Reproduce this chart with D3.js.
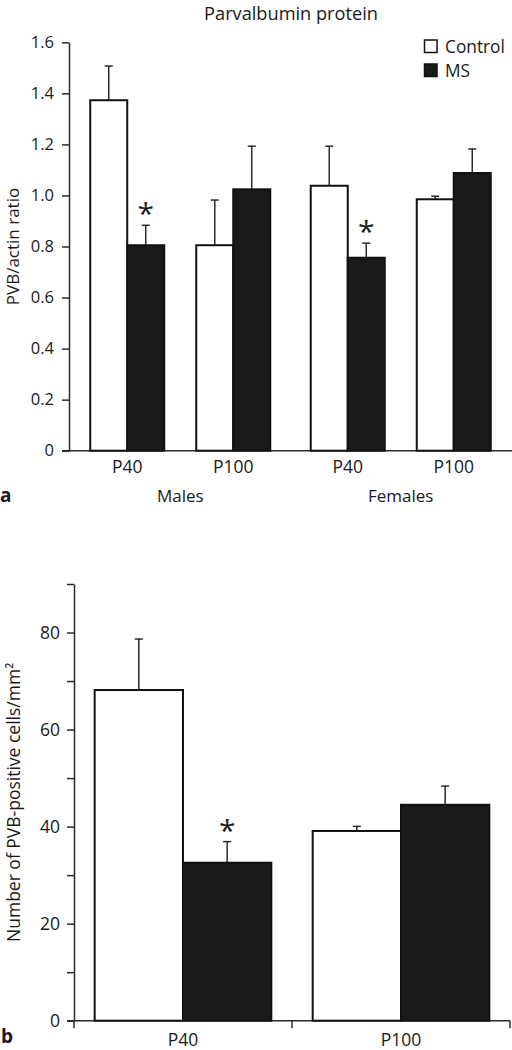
<!DOCTYPE html>
<html>
<head>
<meta charset="utf-8">
<script src="https://cdn.jsdelivr.net/npm/d3@7"></script>
<style>
  html, body { margin: 0; padding: 0; background: #fff; }
  svg { display: block; }
  text { font-family: "Open Sans", "Noto Sans", sans-serif; fill: #1a1a1a; }
</style>
</head>
<body>
<script>
// ---------- Data: panel a ----------
const sexes = ["Males", "Females"];
const ages = ["P40", "P100"];
const seriesNames = ["Control", "MS"];
// values in order: Males P40, Males P100, Females P40, Females P100
const controlMeans = [1.373, 0.805, 1.038, 0.985];
const controlErr   = [0.134, 0.177, 0.155, 0.012];
const msMeans      = [0.805, 1.024, 0.756, 1.088];
const msErr        = [0.078, 0.169, 0.057, 0.094];
const msSignif     = [true, false, true, false];
const yTicksA = [0, 0.2, 0.4, 0.6, 0.8, 1.0, 1.2, 1.4, 1.6];

// ---------- Data: panel b ----------
const agesB = ["P40", "P100"];
const controlMeansB = [68.15, 39.1];
const controlErrB   = [10.5, 0.95];
const msMeansB      = [32.56, 44.5];
const msErrB        = [4.35, 3.85];
const msSignifB     = [true, false];
const yTicksB = [0, 10, 20, 30, 40, 50, 60, 70, 80, 90];
const yLabelledB = [0, 20, 40, 60, 80];

const W = 512, H = 1050;
const svg = d3.select("body").append("svg").attr("width", W).attr("height", H);

const AXIS = "#2a2a2a";
const DARK = "#1a1a1a";

// ================= Panel a =================
const recordsA = [];
sexes.forEach((s, si) => ages.forEach((a, ai) => {
  const i = si * 2 + ai;
  recordsA.push({sex: s, age: a, series: "Control", v: controlMeans[i], e: controlErr[i], sig: false});
  recordsA.push({sex: s, age: a, series: "MS", v: msMeans[i], e: msErr[i], sig: msSignif[i]});
}));

const yA = d3.scaleLinear().domain([0, 1.6]).range([450.7, 42.3]);
const xSex = d3.scaleBand().domain(sexes).range([70, 511]);
const xAge = d3.scaleBand().domain(ages).range([0, xSex.bandwidth()]).paddingInner(0).paddingOuter(0.04);
const xSer = d3.scaleBand().domain(seriesNames).range([0, xAge.bandwidth()]).paddingInner(0).paddingOuter(0.4324);
const axA = 69;

const gA = svg.append("g");

// title
gA.append("text").attr("x", 291).attr("y", 19.5).attr("text-anchor", "middle")
  .attr("font-size", 18.2).text("Parvalbumin protein");

// y axis
const yAxisA = d3.axisLeft(yA).tickValues(yTicksA).tickSize(7).tickSizeOuter(0).tickPadding(8)
  .tickFormat(d => d === 0 ? "0" : d3.format(".1f")(d));
const yaG = gA.append("g").attr("transform", `translate(${axA},0)`).call(yAxisA);
yaG.select(".domain").attr("stroke", AXIS).attr("stroke-width", 1.5);
yaG.selectAll(".tick line").attr("stroke", AXIS).attr("stroke-width", 1.5);
yaG.selectAll(".tick text").attr("font-size", 16.5).attr("font-family", "'Open Sans', sans-serif").attr("fill", DARK);

// x baseline
gA.append("line").attr("x1", axA - 7).attr("x2", 512).attr("y1", yA(0)).attr("y2", yA(0))
  .attr("stroke", AXIS).attr("stroke-width", 1.5);

const barX = d => xSex(d.sex) + xAge(d.age) + xSer(d.series);

// error bars
const errA = gA.append("g");
recordsA.forEach(d => {
  const cx = barX(d) + xSer.bandwidth() / 2;
  errA.append("line").attr("x1", cx).attr("x2", cx).attr("y1", yA(d.v)).attr("y2", yA(d.v + d.e))
    .attr("stroke", AXIS).attr("stroke-width", 1.5);
  errA.append("line").attr("x1", cx - 4).attr("x2", cx + 4).attr("y1", yA(d.v + d.e)).attr("y2", yA(d.v + d.e))
    .attr("stroke", AXIS).attr("stroke-width", 1.5);
});

// bars
gA.append("g").selectAll("rect").data(recordsA).join("rect")
  .attr("x", d => barX(d))
  .attr("y", d => yA(d.v))
  .attr("width", xSer.bandwidth())
  .attr("height", d => yA(0) - yA(d.v))
  .attr("fill", d => d.series === "MS" ? DARK : "#fff")
  .attr("stroke", "#111").attr("stroke-width", 2);

// stars
gA.append("g").selectAll("text").data(recordsA.filter(d => d.sig)).join("text")
  .attr("x", d => barX(d) + xSer.bandwidth() / 2)
  .attr("y", d => yA(d.v + d.e) - 15 + 14)
  .attr("text-anchor", "middle").attr("font-size", 30).text("*");

// x labels
sexes.forEach(s => ages.forEach(a => {
  gA.append("text").attr("x", xSex(s) + xAge(a) + xAge.bandwidth() / 2).attr("y", 473)
    .attr("text-anchor", "middle").attr("font-size", 17.5).text(a);
}));
sexes.forEach(s => {
  gA.append("text").attr("x", xSex(s) + xSex.bandwidth() / 2).attr("y", 502)
    .attr("text-anchor", "middle").attr("font-size", 17).text(s);
});

// y label
gA.append("text").attr("transform", `translate(18.5,${(yA(0) + yA(1.6)) / 2}) rotate(-90)`)
  .attr("text-anchor", "middle").attr("font-size", 17).text("PVB/actin ratio");

// panel letter
gA.append("text").attr("x", 0).attr("y", 502).attr("font-size", 19).attr("font-weight", "bold").text("a");

// legend
const legend = gA.append("g");
seriesNames.forEach((s, i) => {
  legend.append("rect").attr("x", 424.5).attr("y", 40 + i * 24).attr("width", 12.5).attr("height", 12.5)
    .attr("fill", s === "MS" ? DARK : "#fff").attr("stroke", "#111").attr("stroke-width", 1.5);
  legend.append("text").attr("x", 445).attr("y", 52.5 + i * 24).attr("font-size", 17.3).text(s);
});

// ================= Panel b =================
const recordsB = [];
agesB.forEach((a, i) => {
  recordsB.push({age: a, series: "Control", v: controlMeansB[i], e: controlErrB[i], sig: false});
  recordsB.push({age: a, series: "MS", v: msMeansB[i], e: msErrB[i], sig: msSignifB[i]});
});

const yB = d3.scaleLinear().domain([0, 90]).range([1020.7, 584]);
const xB = d3.scaleBand().domain(agesB).range([74, 510]);
const xBSer = d3.scaleBand().domain(seriesNames).range([0, xB.bandwidth()]).paddingInner(0).paddingOuter(0.234);
const axB = 74;

const gB = svg.append("g");

const yAxisB = d3.axisLeft(yB).tickValues(yTicksB).tickSize(7).tickSizeOuter(0).tickPadding(7)
  .tickFormat(d => yLabelledB.includes(d) ? String(d) : "");
const ybG = gB.append("g").attr("transform", `translate(${axB},0)`).call(yAxisB);
ybG.select(".domain").attr("stroke", AXIS).attr("stroke-width", 1.5);
ybG.selectAll(".tick line").attr("stroke", AXIS).attr("stroke-width", 1.5);
ybG.selectAll(".tick text").attr("font-size", 17.5).attr("font-family", "'Open Sans', sans-serif").attr("fill", DARK);

// x axis line + boundary ticks
gB.append("line").attr("x1", axB - 7).attr("x2", 510).attr("y1", yB(0)).attr("y2", yB(0))
  .attr("stroke", AXIS).attr("stroke-width", 1.5);
const bounds = agesB.map(a => xB(a)).concat([xB(agesB[agesB.length - 1]) + xB.step()]);
gB.append("g").selectAll("line").data(bounds).join("line")
  .attr("x1", d => d).attr("x2", d => d).attr("y1", yB(0)).attr("y2", yB(0) + 7.5)
  .attr("stroke", AXIS).attr("stroke-width", 1.5);

const barXB = d => xB(d.age) + xBSer(d.series);

const errB = gB.append("g");
recordsB.forEach(d => {
  const cx = barXB(d) + xBSer.bandwidth() / 2;
  errB.append("line").attr("x1", cx).attr("x2", cx).attr("y1", yB(d.v)).attr("y2", yB(d.v + d.e))
    .attr("stroke", AXIS).attr("stroke-width", 1.5);
  errB.append("line").attr("x1", cx - 4).attr("x2", cx + 4).attr("y1", yB(d.v + d.e)).attr("y2", yB(d.v + d.e))
    .attr("stroke", AXIS).attr("stroke-width", 1.5);
});

gB.append("g").selectAll("rect").data(recordsB).join("rect")
  .attr("x", d => barXB(d))
  .attr("y", d => yB(d.v))
  .attr("width", xBSer.bandwidth())
  .attr("height", d => yB(0) - yB(d.v))
  .attr("fill", d => d.series === "MS" ? DARK : "#fff")
  .attr("stroke", "#111").attr("stroke-width", 2);

gB.append("g").selectAll("text").data(recordsB.filter(d => d.sig)).join("text")
  .attr("x", d => barXB(d) + xBSer.bandwidth() / 2)
  .attr("y", d => yB(d.v + d.e) - 15 + 14)
  .attr("text-anchor", "middle").attr("font-size", 30).text("*");

agesB.forEach(a => {
  gB.append("text").attr("x", xB(a) + xB.bandwidth() / 2).attr("y", 1046)
    .attr("text-anchor", "middle").attr("font-size", 17.5).text(a);
});

gB.append("text").attr("transform", `translate(20,${(yB(0) + yB(90)) / 2}) rotate(-90)`)
  .attr("text-anchor", "middle").attr("font-size", 17.5).text("Number of PVB-positive cells/mm²");

gB.append("text").attr("x", 1).attr("y", 1043).attr("font-size", 19).attr("font-weight", "bold").text("b");
</script>
</body>
</html>
